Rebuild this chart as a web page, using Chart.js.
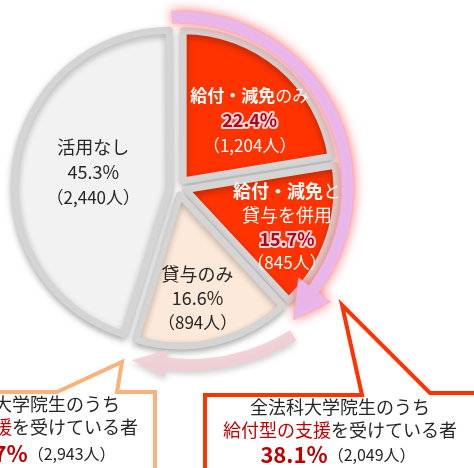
<!DOCTYPE html>
<html><head><meta charset="utf-8">
<script src="https://cdn.jsdelivr.net/npm/chart.js@4/dist/chart.umd.min.js"></script>
<style>html,body{margin:0;padding:0;background:#fff;overflow:hidden}canvas{display:block}</style>
</head><body>
<canvas id="c" width="474" height="468"></canvas>
<script>
// ---- data ----
const categories = ['給付・減免のみ', '給付・減免と貸与を併用', '貸与のみ', '活用なし'];
const percents = [22.4, 15.7, 16.6, 45.3];
const persons = [1204, 845, 894, 2440];
const sliceColors = ['#ff3300', '#ff3300', '#fde9d9', '#f2f2f2'];
const calloutPercents = [54.7, 38.1];
const calloutPersons = [2943, 2049];
const calloutLine1 = ['全法科大学院生のうち', '全法科大学院生のうち'];
const calloutRed = ['経済的支援', '給付型の支援'];
const calloutRest = ['を受けている者', 'を受けている者'];

// label line parts (text, bold?)
const labelHead = [
  [[['給付・減免', true], ['のみ', false]]],
  [[['給付・減免', true], ['と', false]], [['貸与を併用', false]]],
  [[['貸与のみ', false]]],
  [[['活用なし', false]]]
];

const JP = '"Noto Sans CJK JP", "Noto Sans", sans-serif';
const fmt = n => n.toLocaleString('en-US');
const rad = d => (d - 90) * Math.PI / 180;
const pol = (cx, cy, th, r) => [cx + r * Math.cos(rad(th)), cy + r * Math.sin(rad(th))];

function drawRuns(ctx, runs, cx, y) {
  let total = 0;
  runs.forEach(r => { ctx.font = r.font; total += ctx.measureText(r.t).width; });
  let x = cx - total / 2;
  runs.forEach(r => {
    ctx.font = r.font;
    ctx.textAlign = 'left';
    ctx.textBaseline = 'middle';
    if (r.glow) {
      ctx.lineJoin = 'round';
      ctx.strokeStyle = 'rgba(255,225,225,0.95)';
      ctx.lineWidth = 4;
      ctx.strokeText(r.t, x, y);
    }
    ctx.fillStyle = r.color;
    ctx.fillText(r.t, x, y);
    x += ctx.measureText(r.t).width;
  });
}

function arrowPath(ctx, cx, cy, r, w, a0, a1, hIn, hOut, tA, tR) {
  ctx.beginPath();
  ctx.arc(cx, cy, r + w / 2, rad(a0), rad(a1), false);
  ctx.lineTo(...pol(cx, cy, a1, hOut));
  ctx.lineTo(...pol(cx, cy, tA, tR));
  ctx.lineTo(...pol(cx, cy, a1, hIn));
  ctx.arc(cx, cy, r - w / 2, rad(a1), rad(a0), true);
  ctx.closePath();
}

const labelPolar = [[47, 98], [110, 116], [170, 113], [280, 86]];
const lineGap = [25, 24, 24, 25];
const headSize = [17, 18, 18, 18];

const decor = {
  id: 'decor',
  beforeDatasetsDraw(chart) {
    const ctx = chart.ctx;
    ctx.save();
    ctx.shadowColor = 'rgba(0,0,0,0.28)';
    ctx.shadowBlur = 7;
    ctx.shadowOffsetY = 3;
  },
  afterDatasetsDraw(chart) {
    const ctx = chart.ctx;
    ctx.restore();
    const meta = chart.getDatasetMeta(0);
    const cx = meta.data[0].x, cy = meta.data[0].y;

    // slice labels
    meta.data.forEach((arc, i) => {
      const [lx, ly] = pol(cx, cy, labelPolar[i][0], labelPolar[i][1]);
      const onRed = i < 2;
      const col = onRed ? '#ffffff' : '#262626';
      const lines = labelHead[i].map(parts => parts.map(p => ({
        t: p[0], font: (p[1] ? 'bold ' : '') + headSize[i] + 'px ' + JP, color: col
      })));
      lines.push([{ t: percents[i].toFixed(1) + '%', font: (onRed ? 'bold ' : '') + '18px ' + JP,
        color: onRed ? '#b3001b' : '#262626', glow: onRed }]);
      lines.push([{ t: '（' + fmt(persons[i]) + '人）', font: '17px ' + JP, color: col }]);
      const g = lineGap[i];
      const y0 = ly - (lines.length - 1) * g / 2;
      lines.forEach((runs, k) => drawRuns(ctx, runs, lx, y0 + k * g));
    });

    // arrow 1 (around the red slices)
    ctx.save();
    arrowPath(ctx, cx, cy, 170, 12, -2, 127, 151, 191, 139, 176);
    ctx.shadowColor = 'rgba(255,80,80,0.9)';
    ctx.shadowBlur = 12;
    ctx.fillStyle = 'rgba(232,184,238,0.95)';
    ctx.fill();
    ctx.shadowBlur = 0;
    ctx.lineWidth = 1;
    ctx.strokeStyle = 'rgba(255,170,170,0.7)';
    ctx.stroke();
    ctx.restore();

    // arrow 2 (under the loan slice)
    ctx.save();
    arrowPath(ctx, cx + 12, cy - 17, 195, 12, 148, 187, 181, 209, 197, 199);
    ctx.shadowColor = 'rgba(0,0,0,0.22)';
    ctx.shadowBlur = 6;
    ctx.shadowOffsetY = 3;
    ctx.fillStyle = 'rgba(240,206,212,0.88)';
    ctx.fill();
    ctx.restore();

    // callout boxes
    ctx.save();
    ctx.lineWidth = 4;
    ctx.lineJoin = 'miter';
    // left (orange)
    ctx.beginPath();
    ctx.moveTo(-10, 392); ctx.lineTo(57, 392); ctx.lineTo(122, 362); ctx.lineTo(117, 392);
    ctx.lineTo(155, 392); ctx.lineTo(155, 480); ctx.lineTo(-10, 480); ctx.closePath();
    ctx.fillStyle = '#ffffff'; ctx.fill();
    ctx.strokeStyle = '#f9b27c'; ctx.stroke();
    // right (red)
    ctx.beginPath();
    ctx.moveTo(205, 480); ctx.lineTo(205, 395); ctx.lineTo(362, 395); ctx.lineTo(342, 305);
    ctx.lineTo(430, 393); ctx.lineTo(485, 393); ctx.lineTo(485, 480); ctx.closePath();
    ctx.fillStyle = '#ffffff'; ctx.fill();
    ctx.strokeStyle = '#ff3300'; ctx.stroke();
    ctx.restore();

    const boxes = [{ x: 30, x3: 38, ys: [404, 427, 454] }, { x: 340, x3: 338, ys: [407, 430, 455] }];
    boxes.forEach((b, i) => {
      drawRuns(ctx, [{ t: calloutLine1[i], font: '18px ' + JP, color: '#262626' }], b.x, b.ys[0]);
      drawRuns(ctx, [{ t: calloutRed[i], font: '18px ' + JP, color: '#c00000' },
                     { t: calloutRest[i], font: '18px ' + JP, color: '#262626' }], b.x, b.ys[1]);
      drawRuns(ctx, [{ t: calloutPercents[i].toFixed(1) + '%', font: 'bold 22px ' + JP, color: '#c00000' },
                     { t: '（' + fmt(calloutPersons[i]) + '人）', font: '16px ' + JP, color: '#262626' }], b.x3, b.ys[2]);
    });
  }
};

new Chart(document.getElementById('c'), {
  type: 'pie',
  data: {
    labels: categories,
    datasets: [{
      data: percents,
      backgroundColor: sliceColors,
      borderColor: '#d4d4d4',
      borderWidth: 7,
      borderJoinStyle: 'round',
      offset: [32, 32, 32, 32],
      radius: 150
    }]
  },
  options: {
    responsive: false,
    devicePixelRatio: 1,
    animation: false,
    events: [],
    radius: 150,
    layout: { padding: { left: 0, right: 118, top: 0, bottom: 94 } },
    plugins: { legend: { display: false }, tooltip: { enabled: false } }
  },
  plugins: [decor]
});
</script>
</body></html>
